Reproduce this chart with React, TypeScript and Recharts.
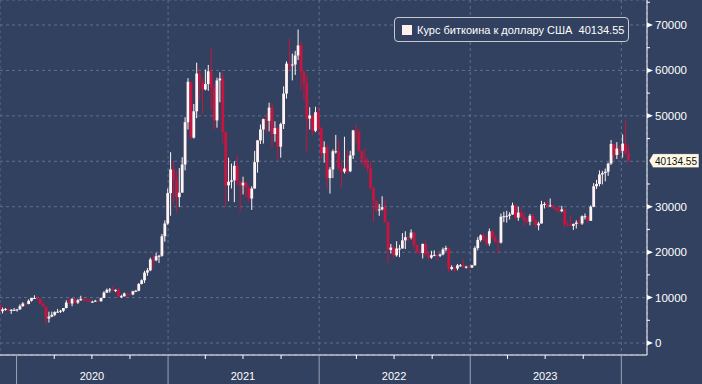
import React from 'react';
import { ComposedChart, Bar, XAxis, YAxis, CartesianGrid } from 'recharts';

// weekly candles, first week starts on this Monday
const FIRST_WEEK = '2019-11-18';
const FIRST_OPEN = 8500;

const highs = [
  // 2019
  8600, 7800, 7700, 7600, 7500, 7700, 7500,
  // 2020
  8500, 9000, 8700, 9600, 9900, 10500, 10200, 9900, 9200, 8100, 6900, 6900, 7000,
  7500, 7300, 7700, 9400, 10000, 9900, 9900, 9700, 10400, 10000, 9800, 9800, 9300,
  9500, 9300, 10000, 11400, 12000, 12100, 12500, 11800, 12100, 10600, 11100, 10900,
  10900, 11500, 11700, 13200, 14000, 15900, 16500, 18800, 19400, 19900, 19400, 24000,
  27000, 34000,
  // 2021
  42000, 40000, 37800, 38500, 40900, 49700, 58300, 57500, 52600, 61700, 60600, 58500,
  60200, 61200, 64800, 57000, 58400, 59600, 59500, 46600, 40800, 39500, 40000, 41300,
  35700, 36600, 35400, 34600, 34500, 42300, 44700, 48100, 49400, 50500, 52900, 52900,
  48800, 47600, 48500, 56500, 62000, 67000, 63700, 64300, 69000, 66300, 59800, 59100,
  51900, 50200, 52000, 52000,
  // 2022
  47600, 44400, 43500, 38700, 42600, 45800, 44700, 40000, 45400, 42600, 42300, 46900,
  48200, 47100, 42400, 42900, 40800, 40000, 34400, 31300, 30600, 32300, 31600, 26800,
  21800, 21500, 22400, 21600, 24200, 24600, 23500, 25000, 24400, 21800, 20600, 21900,
  22600, 19900, 20300, 20400, 19500, 19700, 21000, 21400, 21000, 17100, 16800, 17400,
  17400, 18400, 17000, 16900,
  // 2023
  17200, 21300, 23300, 23900, 24200, 23400, 25200, 25100, 23900, 22600, 28500, 28900,
  29100, 28800, 30900, 30500, 30000, 29800, 28800, 27500, 28400, 28400, 27300, 26700,
  31300, 31000, 31400, 31800, 30400, 29900, 29900, 30200, 29500, 26800, 28100, 26300,
  27000, 27400, 28100, 28500, 27900, 30300, 35200, 35900, 38000, 37900, 38400, 39700,
  44700, 43900, 44200, 43600,
  // 2024
  45900, 49000, 43500,
];

const lows = [
  6800, 6500, 7100, 7000, 6400, 7100, 6900,
  7300, 8000, 8200, 8500, 9100, 9700, 9400, 8500, 7900, 4000, 4500, 5700, 5900,
  6700, 6600, 6800, 7600, 8600, 8100, 8800, 8600, 9300, 9100, 9200, 8900, 8900,
  9100, 9000, 9100, 9900, 11000, 11100, 11500, 11200, 9900, 9900, 10200, 10200,
  10400, 10500, 11200, 11400, 12900, 13200, 14800, 15800, 16200, 18000, 17600, 19000,
  22300, 26000,
  28000, 30500, 28800, 29900, 33100, 38000, 47000, 44900, 45000, 49500, 53300, 50400,
  55600, 55500, 51300, 47000, 47400, 53000, 43900, 30000, 31200, 34000, 31000, 34800,
  28800, 32700, 32100, 31100, 29300, 34000, 37500, 43800, 43900, 46300, 46600, 43000,
  44300, 40000, 40800, 47100, 53800, 59800, 57800, 59000, 62300, 55700, 53500, 42000,
  47000, 45700, 46400, 45700,
  40600, 39700, 34000, 32900, 36300, 41700, 37900, 34300, 37300, 37200, 37600, 40500,
  44000, 42100, 39200, 38600, 37700, 33700, 26700, 28700, 28000, 29200, 26500, 17600,
  19700, 18700, 19000, 18900, 20800, 20700, 22400, 22800, 20800, 19800, 19600, 18600,
  19300, 18200, 18500, 19100, 18200, 18900, 19300, 20200, 15600, 16000, 15500, 16000,
  16800, 16500, 16400, 16300,
  16500, 17000, 20400, 22300, 22500, 21400, 21400, 22800, 22000, 19600, 21900, 26600,
  26500, 27200, 28200, 27100, 26900, 27600, 25800, 26300, 25900, 26500, 25400, 24800,
  26300, 29600, 29800, 29900, 29600, 28900, 28600, 28800, 25300, 25800, 25600, 24900,
  25200, 26000, 26000, 27200, 26500, 26900, 29900, 33900, 34500, 34900, 35600, 36800,
  39200, 40200, 40500, 41400,
  40800, 41500, 39600,
];

const closes = [
  7000, 7400, 7500, 7100, 7300, 7300, 7400,
  8100, 8700, 8600, 9300, 9900, 9900, 9700, 8600, 8000, 5400, 5800, 6200, 6800,
  6900, 7100, 7700, 8900, 8700, 9700, 8900, 9400, 9700, 9400, 9300, 9100, 9100,
  9300, 9200, 9900, 11100, 11700, 11800, 11700, 11700, 10300, 10300, 10900, 10800,
  10700, 11400, 11500, 13000, 13800, 15500, 16000, 18400, 18200, 19100, 19200, 23500,
  26300, 33000,
  38200, 36000, 32100, 33100, 39300, 48600, 57500, 45200, 51000, 59300, 57400, 55800,
  57000, 59800, 56200, 49000, 57800, 58200, 46400, 34700, 35500, 35800, 39000, 35600,
  34700, 35300, 34200, 31800, 34000, 39800, 44600, 47000, 49300, 48900, 51800, 46000,
  47300, 43200, 48200, 54900, 61500, 61100, 61300, 63300, 65500, 59700, 57200, 49400,
  50100, 46700, 50800, 47300,
  41800, 43100, 36300, 38200, 42200, 42200, 38400, 37700, 38400, 37800, 41300, 46800,
  46400, 42200, 40400, 39500, 38500, 34100, 31300, 29400, 29400, 29900, 26600, 20500,
  21000, 19300, 20800, 20800, 22600, 23300, 23200, 24300, 21500, 20000, 19800, 21800,
  19400, 18800, 19300, 19400, 19200, 19500, 20600, 20900, 16300, 16700, 16400, 17100,
  17100, 16800, 16800, 16600,
  17100, 20900, 22700, 23700, 22900, 21900, 24600, 23200, 22400, 22100, 27800, 27900,
  28000, 28300, 30300, 27600, 28700, 27700, 26900, 26700, 28000, 27100, 25900, 26300,
  30500, 30600, 30200, 30300, 29800, 29300, 29000, 29400, 26100, 26000, 25800, 26200,
  26500, 26300, 27900, 27900, 26900, 30000, 34500, 35000, 37100, 37400, 37700, 39500,
  43800, 41400, 42800, 42300,
  43900, 41700, 40134.55,
];

const LAST_PRICE = 40134.55;
const SERIES_NAME = 'Курс биткоина к доллару США';

const yearStarts = ['2020-01-01', '2021-01-01', '2022-01-01', '2023-01-01', '2024-01-01'];
const quarterTicks = [
  '2020-01-01', '2020-04-01', '2020-07-01', '2020-10-01',
  '2021-01-01', '2021-04-01', '2021-07-01', '2021-10-01',
  '2022-01-01', '2022-04-01', '2022-07-01', '2022-10-01',
  '2023-01-01', '2023-04-01', '2023-07-01', '2023-10-01',
  '2024-01-01',
];
const priceTicks = [
  0, 5000, 10000, 15000, 20000, 25000, 30000, 35000, 40000, 45000, 50000, 55000, 60000,
  65000, 70000, 75000,
];
const gridValues = [0, 10000, 20000, 30000, 40000, 50000, 60000, 70000];

const DAY = 86400000;
const X_DOMAIN = [Date.parse('2019-11-22'), Date.parse('2024-03-03')];
const Y_DOMAIN = [-2640, 75500];

const BG = '#334160';
const GRID = '#5f6f8f';
const UP = '#fff3f3';
const DOWN = '#c8143f';
const FONT = '"Liberation Sans", Arial, sans-serif';

const candles = closes.map((close, i) => {
  const open = i === 0 ? FIRST_OPEN : closes[i - 1];
  return {
    t: Date.parse(FIRST_WEEK) + (i * 7 + 3.5) * DAY,
    open,
    close,
    high: Math.max(highs[i], open, close),
    low: Math.min(lows[i], open, close),
  };
});
const chartData = candles.map(c => ({ ...c, range: [c.low, c.high] }));

const Candle = (props: any) => {
  const { x, y, width, height, payload } = props;
  if (x == null || y == null) return null;
  const { open, close, high, low } = payload;
  const cx = x + width / 2;
  const k = high === low ? 0 : height / (high - low);
  const yOpen = y + (high - open) * k;
  const yClose = y + (high - close) * k;
  const color = close >= open ? UP : DOWN;
  const top = Math.min(yOpen, yClose);
  const h = Math.max(Math.abs(yOpen - yClose), 1);
  return (
    <g>
      <line x1={cx} x2={cx} y1={y} y2={y + height} stroke={color} strokeWidth={1} />
      <rect x={cx - 1.4} y={top} width={2.8} height={h} fill={color} />
    </g>
  );
};

const PriceTick = (props: any) => {
  const { x, y, payload } = props;
  const v = payload.value;
  if (v === LAST_PRICE) {
    return (
      <g>
        <path
          d={`M${x + 2},${y} L${x + 6},${y - 7} H${x + 52} V${y + 7} H${x + 6} Z`}
          fill="#fdf9e6"
          stroke="#20283a"
          strokeWidth={0.5}
        />
        <text
          x={x + 8}
          y={y}
          dy="0.35em"
          fontSize={11}
          fill="#111"
          fontFamily={FONT}
          textLength={42}
          lengthAdjust="spacingAndGlyphs"
        >
          {LAST_PRICE.toFixed(2)}
        </text>
      </g>
    );
  }
  if (v === 40000) return null;
  if (v % 10000 !== 0) {
    return <line x1={x} x2={x + 3} y1={y} y2={y} stroke="#fff" strokeWidth={1} />;
  }
  return (
    <g>
      <path d={`M${x},${y - 2.5} L${x + 6},${y} L${x},${y + 2.5} Z`} fill="#fff" />
      <text x={x + 8} y={y} dy="0.35em" fontSize={11.5} fill="#fff" fontFamily={FONT}>
        {v}
      </text>
    </g>
  );
};

const TimeTick = (props: any) => {
  const { x, y, payload } = props;
  const d = new Date(payload.value);
  const month = d.getUTCMonth();
  if (month === 0) {
    return <line x1={x} x2={x} y1={y} y2={y + 29} stroke="#9aa3b5" strokeWidth={1} />;
  }
  return (
    <g>
      <line x1={x} x2={x} y1={y} y2={y + 4} stroke="#fff" strokeWidth={1} />
      {month === 6 && (
        <text x={x} y={y + 21} dy="0.35em" textAnchor="middle" fontSize={11} fill="#fff" fontFamily={FONT}>
          {d.getUTCFullYear()}
        </text>
      )}
    </g>
  );
};

export default function App() {
  return (
    <div style={{ position: 'fixed', left: 0, top: 0, width: 702, height: 384, background: BG }}>
      <ComposedChart width={702} height={384} data={chartData} margin={{ top: 0, right: 0, bottom: 0, left: 0 }}>
        <XAxis
          xAxisId="grid"
          hide
          type="number"
          dataKey="t"
          domain={X_DOMAIN}
          allowDataOverflow
          ticks={yearStarts.map(s => Date.parse(s))}
        />
        <YAxis yAxisId="grid" hide orientation="right" type="number" domain={Y_DOMAIN} allowDataOverflow ticks={gridValues} />
        <CartesianGrid xAxisId="grid" yAxisId="grid" stroke={GRID} strokeDasharray="3 3" />
        <XAxis
          type="number"
          dataKey="t"
          domain={X_DOMAIN}
          allowDataOverflow
          ticks={quarterTicks.map(s => Date.parse(s))}
          interval={0}
          height={29}
          axisLine={{ stroke: '#fff' }}
          tickLine={false}
          tickSize={0}
          tickMargin={0}
          tick={<TimeTick />}
        />
        <YAxis
          orientation="right"
          type="number"
          domain={Y_DOMAIN}
          allowDataOverflow
          ticks={[...priceTicks, LAST_PRICE]}
          interval={0}
          width={55}
          axisLine={{ stroke: '#fff' }}
          tickLine={false}
          tickSize={0}
          tickMargin={0}
          tick={<PriceTick />}
        />
        <Bar dataKey="range" barSize={3} shape={<Candle />} isAnimationActive={false} />
      </ComposedChart>
      <div
        style={{
          position: 'absolute',
          left: 394,
          top: 17,
          width: 233,
          height: 23,
          border: '1px solid #c5c9d2',
          borderRadius: 4,
          background: BG,
          display: 'flex',
          alignItems: 'center',
          fontFamily: FONT,
          fontSize: 11,
          color: '#fff',
          whiteSpace: 'pre',
          overflow: 'hidden',
        }}
      >
        <span
          style={{
            display: 'inline-block',
            flexShrink: 0,
            width: 10,
            height: 10,
            background: '#fff0ee',
            marginLeft: 7,
            marginRight: 5,
          }}
        />
        <span>{`${SERIES_NAME}  ${LAST_PRICE.toFixed(2)}`}</span>
      </div>
    </div>
  );
}
